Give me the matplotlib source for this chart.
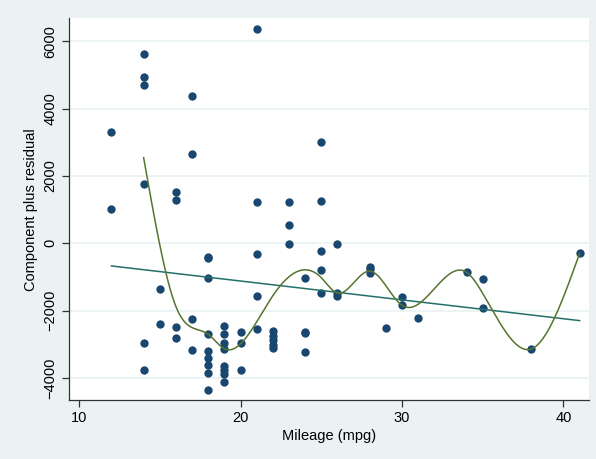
import matplotlib
matplotlib.use("Agg")
import matplotlib.pyplot as plt
import numpy as np

plt.rcParams['font.family'] = ['Liberation Sans', 'DejaVu Sans']

# component plus residual values, grouped by mileage
mpg_vals = {
    12: [3315, 1019],
    14: [5622, 4939, 4701, 1770, -2970, -3772],
    15: [-1357, -2406],
    16: [1524, 1277, -2477, -2804],
    17: [4366, 2643, -2257, -3170],
    18: [-415, -425, -1040, -2703, -3199, -3415, -3615, -3843, -4357],
    19: [-2465, -2703, -2952, -3130, -3635, -3763, -3882, -4119],
    20: [-2625, -2952, -3754],
    21: [6356, 1218, -327, -1556, -2554],
    22: [-2605, -2744, -2881, -3020, -3119],
    23: [1236, 543, -30],
    24: [-1021, -2643, -2660, -3237],
    25: [2999, 1247, -229, -802, -1476],
    26: [-30, -1476, -1565],
    28: [-704, -760, -891],
    29: [-2516],
    30: [-1595, -1841],
    31: [-2219],
    34: [-861],
    35: [-1069, -1912],
    38: [-3139],
    41: [-297],
}
b_mpg = -56.0      # regression coefficient on mpg
n_bands = 13       # median spline bands

mpg = np.array([k for k, v in mpg_vals.items() for _ in v], dtype=float)
cpr = np.array([y for v in mpg_vals.values() for y in v], dtype=float)


def natural_spline(xk, yk, xs):
    n = len(xk)
    h = np.diff(xk)
    A = np.zeros((n, n))
    r = np.zeros(n)
    A[0, 0] = A[-1, -1] = 1
    for i in range(1, n - 1):
        A[i, i - 1] = h[i - 1]
        A[i, i] = 2 * (h[i - 1] + h[i])
        A[i, i + 1] = h[i]
        r[i] = 3 * ((yk[i + 1] - yk[i]) / h[i] - (yk[i] - yk[i - 1]) / h[i - 1])
    c = np.linalg.solve(A, r)
    b = (yk[1:] - yk[:-1]) / h - h * (2 * c[:-1] + c[1:]) / 3
    d = (c[1:] - c[:-1]) / (3 * h)
    idx = np.clip(np.searchsorted(xk, xs) - 1, 0, n - 2)
    t = xs - xk[idx]
    return yk[idx] + b[idx] * t + c[idx] * t ** 2 + d[idx] * t ** 3


# cross medians in equal-width bands, then cubic spline (like Stata's mspline)
w = (mpg.max() - mpg.min()) / n_bands
band = np.clip(np.floor((mpg - mpg.min()) / w), 0, n_bands - 1)
kx, ky = [], []
for bnd in np.unique(band):
    m = band == bnd
    kx.append(np.median(mpg[m]))
    ky.append(np.median(cpr[m]))
kx, ky = np.array(kx), np.array(ky)
xs = np.linspace(kx[0], kx[-1], 400)
ys = natural_spline(kx, ky, xs)

bg = '#eaf2f3'
fig = plt.figure(figsize=(5.96, 4.59), dpi=100, facecolor=bg)
ax = fig.add_axes([0.1153, 0.1285, 0.9888 - 0.1153, 0.9597 - 0.1285])
ax.set_facecolor('white')

ax.scatter(mpg, cpr, s=36, color='#1a476f', zorder=3, linewidths=0)
xl = np.array([mpg.min(), mpg.max()])
ax.plot(xl, b_mpg * xl, color='#23706a', lw=1.1, zorder=4)
ax.plot(xs, ys, color='#55752f', lw=1.1, zorder=4)

ax.set_xlim(9.36, 41.6)
ax.set_ylim(-4654, 6677)
ax.set_xticks([10, 20, 30, 40])
ax.set_yticks([-4000, -2000, 0, 2000, 4000, 6000])
ax.set_yticklabels(['\u22124000', '\u22122000', '0', '2000', '4000', '6000'],
                   rotation=90, va='center')
ax.grid(axis='y', color=bg, lw=1.2)
ax.set_axisbelow(True)
for s in ['top', 'right']:
    ax.spines[s].set_visible(False)
for s in ['left', 'bottom']:
    ax.spines[s].set_color('#333333')
    ax.spines[s].set_linewidth(0.9)
ax.tick_params(length=5, width=0.9, color='#333333', labelsize=10.5, pad=3)
ax.set_xlabel('Mileage (mpg)', fontsize=10.5, labelpad=3)
ax.set_ylabel('Component plus residual', fontsize=10.5, labelpad=4)

fig.savefig('out.png', dpi=100, facecolor=bg)
